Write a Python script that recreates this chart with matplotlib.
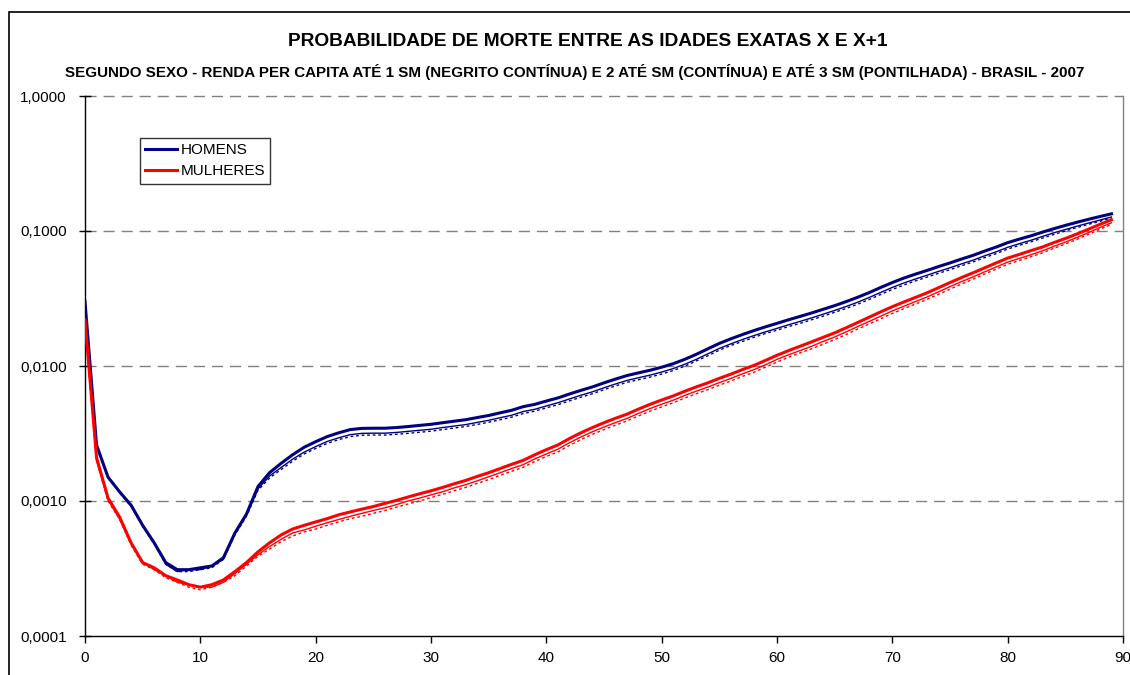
import matplotlib
matplotlib.use("Agg")
import matplotlib.pyplot as plt
from matplotlib.patches import Rectangle
from matplotlib.lines import Line2D

plt.rcParams['font.family'] = ['Liberation Sans', 'DejaVu Sans']

ages = list(range(0, 90))

homens_1sm = [0.030, 0.0026, 0.0015, 0.00117, 0.00093, 0.00066, 0.00049, 0.00035, 0.00031, 0.00031,
              0.00032, 0.00033, 0.00038, 0.00058, 0.00080, 0.00128, 0.00162, 0.0019, 0.0022, 0.0025,
              0.00275, 0.0030, 0.0032, 0.00338, 0.00345, 0.00346, 0.00346, 0.00350, 0.00356, 0.00363,
              0.0037, 0.0038, 0.0039, 0.0040, 0.00415, 0.0043, 0.0045, 0.0047, 0.0050, 0.0052,
              0.0055, 0.0058, 0.0062, 0.0066, 0.0070, 0.0075, 0.0080, 0.0085, 0.0089, 0.0093,
              0.0098, 0.0104, 0.0112, 0.0122, 0.0134, 0.0147, 0.0159, 0.0171, 0.0183, 0.0195,
              0.0207, 0.0220, 0.0233, 0.0247, 0.0263, 0.0280, 0.0300, 0.0323, 0.0350, 0.0382,
              0.0415, 0.0448, 0.0479, 0.0510, 0.0545, 0.058, 0.062, 0.066, 0.071, 0.076,
              0.082, 0.087, 0.092, 0.098, 0.104, 0.110, 0.116, 0.122, 0.128, 0.134]

homens_2sm = [0.029, 0.0026, 0.0015, 0.00116, 0.00092, 0.00066, 0.00049, 0.00034, 0.00030, 0.00031,
              0.00031, 0.00033, 0.00037, 0.00057, 0.00079, 0.00123, 0.00153, 0.00177, 0.00204, 0.0023,
              0.00253, 0.00276, 0.00294, 0.0031, 0.00317, 0.00318, 0.00318, 0.00322, 0.00328, 0.00334,
              0.0034, 0.0035, 0.00359, 0.00368, 0.00382, 0.00396, 0.00414, 0.00432, 0.0046, 0.00478,
              0.00506, 0.00534, 0.0057, 0.00607, 0.00644, 0.0069, 0.00736, 0.00782, 0.00819, 0.00856,
              0.00902, 0.00957, 0.0103, 0.0112, 0.0123, 0.0135, 0.0146, 0.0157, 0.0168, 0.0179,
              0.019, 0.0202, 0.0214, 0.0227, 0.0242, 0.0258, 0.0276, 0.0297, 0.0322, 0.0351,
              0.0382, 0.0412, 0.0441, 0.0470, 0.0502, 0.0534, 0.0571, 0.0608, 0.0655, 0.0701,
              0.0757, 0.0805, 0.0853, 0.091, 0.097, 0.1025, 0.1085, 0.1145, 0.1205, 0.127]

homens_3sm = [0.028, 0.0025, 0.0015, 0.00115, 0.00091, 0.00065, 0.00048, 0.00034, 0.00030, 0.00030,
              0.00031, 0.00032, 0.00037, 0.00056, 0.00077, 0.0012, 0.00148, 0.00171, 0.00197, 0.00223,
              0.00245, 0.00267, 0.00285, 0.0030, 0.00307, 0.00308, 0.00308, 0.00312, 0.00317, 0.00323,
              0.00329, 0.00338, 0.00347, 0.00356, 0.00369, 0.00383, 0.0040, 0.00418, 0.00445, 0.00463,
              0.0049, 0.00516, 0.00552, 0.00587, 0.00623, 0.00668, 0.00712, 0.00757, 0.00792, 0.00828,
              0.00872, 0.00926, 0.00997, 0.0109, 0.0119, 0.0131, 0.0142, 0.0152, 0.0163, 0.0174,
              0.0184, 0.0196, 0.0207, 0.022, 0.0234, 0.025, 0.0267, 0.0287, 0.0311, 0.0339,
              0.0369, 0.0398, 0.0427, 0.0455, 0.0486, 0.0517, 0.0553, 0.059, 0.0635, 0.068,
              0.0735, 0.0782, 0.083, 0.0885, 0.0943, 0.100, 0.106, 0.112, 0.118, 0.125]

mulheres_1sm = [0.022, 0.0021, 0.00105, 0.00076, 0.00049, 0.00035, 0.00032, 0.00028, 0.00026, 0.00024,
                0.00023, 0.00024, 0.00026, 0.00030, 0.00035, 0.00042, 0.00049, 0.00056, 0.00062, 0.00066,
                0.00070, 0.00074, 0.00079, 0.00083, 0.00087, 0.00091, 0.00096, 0.00101, 0.00107, 0.00113,
                0.00119, 0.00126, 0.00134, 0.00142, 0.00152, 0.00162, 0.00174, 0.00187, 0.0020, 0.0022,
                0.0024, 0.0026, 0.0029, 0.0032, 0.0035, 0.0038, 0.0041, 0.0044, 0.0048, 0.0052,
                0.0056, 0.0060, 0.0065, 0.0070, 0.0075, 0.0081, 0.0087, 0.0094, 0.0101, 0.0110,
                0.0120, 0.0130, 0.0140, 0.0151, 0.0163, 0.0176, 0.0192, 0.0210, 0.0230, 0.0252,
                0.0275, 0.0298, 0.0322, 0.0348, 0.0380, 0.0415, 0.0452, 0.049, 0.0533, 0.058,
                0.063, 0.067, 0.0715, 0.076, 0.082, 0.088, 0.095, 0.103, 0.112, 0.121]

mulheres_2sm = [0.021, 0.0020, 0.00102, 0.00074, 0.00048, 0.00035, 0.00031, 0.00028, 0.00025, 0.00024,
                0.00023, 0.00023, 0.00025, 0.00029, 0.00034, 0.00040, 0.00046, 0.00052, 0.00058, 0.00061,
                0.00065, 0.00069, 0.00073, 0.00077, 0.00081, 0.00085, 0.00089, 0.00094, 0.00100, 0.00105,
                0.00111, 0.00117, 0.00125, 0.00132, 0.00141, 0.00151, 0.00162, 0.00174, 0.00186, 0.00205,
                0.00223, 0.00242, 0.0027, 0.00298, 0.00326, 0.00353, 0.00381, 0.00409, 0.00446, 0.00484,
                0.00521, 0.00558, 0.00605, 0.00651, 0.00698, 0.00753, 0.00809, 0.00874, 0.0094, 0.0102,
                0.0112, 0.0121, 0.0130, 0.0140, 0.0152, 0.0164, 0.0179, 0.0196, 0.0214, 0.0234,
                0.0256, 0.0277, 0.0300, 0.0324, 0.0354, 0.0387, 0.0422, 0.0457, 0.0498, 0.0541,
                0.0588, 0.0626, 0.0666, 0.0712, 0.0769, 0.0827, 0.0895, 0.0973, 0.106, 0.115]

mulheres_3sm = [0.020, 0.0020, 0.00100, 0.00073, 0.00047, 0.00034, 0.00031, 0.00027, 0.00025, 0.00023,
                0.00022, 0.00023, 0.00025, 0.00028, 0.00033, 0.00039, 0.00044, 0.0005, 0.00055, 0.00059,
                0.00062, 0.00066, 0.0007, 0.00074, 0.00077, 0.00081, 0.00085, 0.0009, 0.00095, 0.0010,
                0.00106, 0.00112, 0.00119, 0.00126, 0.00135, 0.00144, 0.00155, 0.00166, 0.00178, 0.00196,
                0.00214, 0.00231, 0.00258, 0.00285, 0.00312, 0.00338, 0.00365, 0.00392, 0.00427, 0.00463,
                0.00498, 0.00534, 0.00579, 0.00623, 0.00668, 0.00721, 0.00774, 0.00837, 0.00899, 0.0098,
                0.0107, 0.0116, 0.0125, 0.0134, 0.0145, 0.0157, 0.0171, 0.0188, 0.0205, 0.0224,
                0.0245, 0.0266, 0.0288, 0.0311, 0.0339, 0.0371, 0.0405, 0.0440, 0.0480, 0.0522,
                0.0567, 0.0604, 0.0644, 0.0688, 0.0744, 0.0801, 0.0868, 0.0945, 0.103, 0.112]

y_ticks = [0.0001, 0.001, 0.01, 0.1, 1.0]
y_tick_labels = ["0,0001", "0,0010", "0,0100", "0,1000", "1,0000"]
x_ticks = [0, 10, 20, 30, 40, 50, 60, 70, 80, 90]
legend_labels = ["HOMENS", "MULHERES"]

title = "PROBABILIDADE DE MORTE ENTRE AS IDADES EXATAS X E X+1"
subtitle = ("SEGUNDO SEXO - RENDA PER CAPITA ATÉ 1 SM (NEGRITO CONTÍNUA) E 2 ATÉ SM (CONTÍNUA) "
            "E ATÉ 3 SM (PONTILHADA) - BRASIL - 2007")

NAVY = "#000080"
RED = "#FF0000"

W, H = 1130, 675
fig = plt.figure(figsize=(W / 100, H / 100), dpi=100)
fig.patch.set_facecolor("white")

# outer chart border
fig.add_artist(Rectangle((9 / W, -0.05), 1.2, 1 - 12 / H + 0.05, transform=fig.transFigure,
                         fill=False, edgecolor="black", linewidth=1.2))

left, right, top, bottom = 85, 1123, 96, 636
ax = fig.add_axes([left / W, 1 - bottom / H, (right - left) / W, (bottom - top) / H])
ax.set_yscale("log")
ax.set_xlim(0, 90)
ax.set_ylim(0.0001, 1.0)

# gridlines
for yv in [0.001, 0.01, 0.1, 1.0]:
    ax.axhline(yv, color="#808080", linewidth=1.0, linestyle=(0, (8, 5)), zorder=1, clip_on=False)

# series
ax.plot(ages, homens_3sm, color=NAVY, linewidth=1.0, linestyle=(0, (2, 2)), zorder=3)
ax.plot(ages, homens_2sm, color=NAVY, linewidth=1.0, zorder=3)
ax.plot(ages, homens_1sm, color=NAVY, linewidth=2.2, zorder=4)
ax.plot(ages, mulheres_3sm, color=RED, linewidth=1.0, linestyle=(0, (2, 2)), zorder=3)
ax.plot(ages, mulheres_2sm, color=RED, linewidth=1.0, zorder=3)
ax.plot(ages, mulheres_1sm, color=RED, linewidth=2.2, zorder=4)

ax.set_yticks(y_ticks)
ax.set_yticklabels(y_tick_labels)
ax.yaxis.set_minor_locator(matplotlib.ticker.NullLocator())
ax.set_xticks(x_ticks)
ax.set_xticklabels([str(v) for v in x_ticks])
ax.tick_params(axis="y", direction="inout", length=8, width=1, labelsize=11, pad=9, colors="black")
ax.tick_params(axis="x", direction="out", length=5, width=1, labelsize=11, pad=6, colors="black")

for s in ["left", "bottom"]:
    ax.spines[s].set_color("black")
    ax.spines[s].set_linewidth(1.0)
ax.spines["top"].set_visible(False)
ax.spines["right"].set_color("#808080")
ax.spines["right"].set_linewidth(1.0)

# legend
handles = [Line2D([0], [0], color=NAVY, linewidth=2.2),
           Line2D([0], [0], color=RED, linewidth=2.2)]
leg = ax.legend(handles, legend_labels, loc="upper left",
                bbox_to_anchor=((140 - left) / (right - left), 1 - (138 - top) / (bottom - top)),
                frameon=True, fancybox=False, edgecolor="black", fontsize=11,
                handlelength=2.1, handletextpad=0.2, borderpad=0.35, labelspacing=0.45,
                borderaxespad=0)
leg.get_frame().set_linewidth(1.0)

fig.text(588 / W, 1 - 41 / H, title, ha="center", va="center", fontsize=13.8, fontweight="bold")
fig.text(575 / W, 1 - 72 / H, subtitle, ha="center", va="center", fontsize=10.9, fontweight="bold")

fig.savefig("out.png", dpi=100, facecolor="white")
